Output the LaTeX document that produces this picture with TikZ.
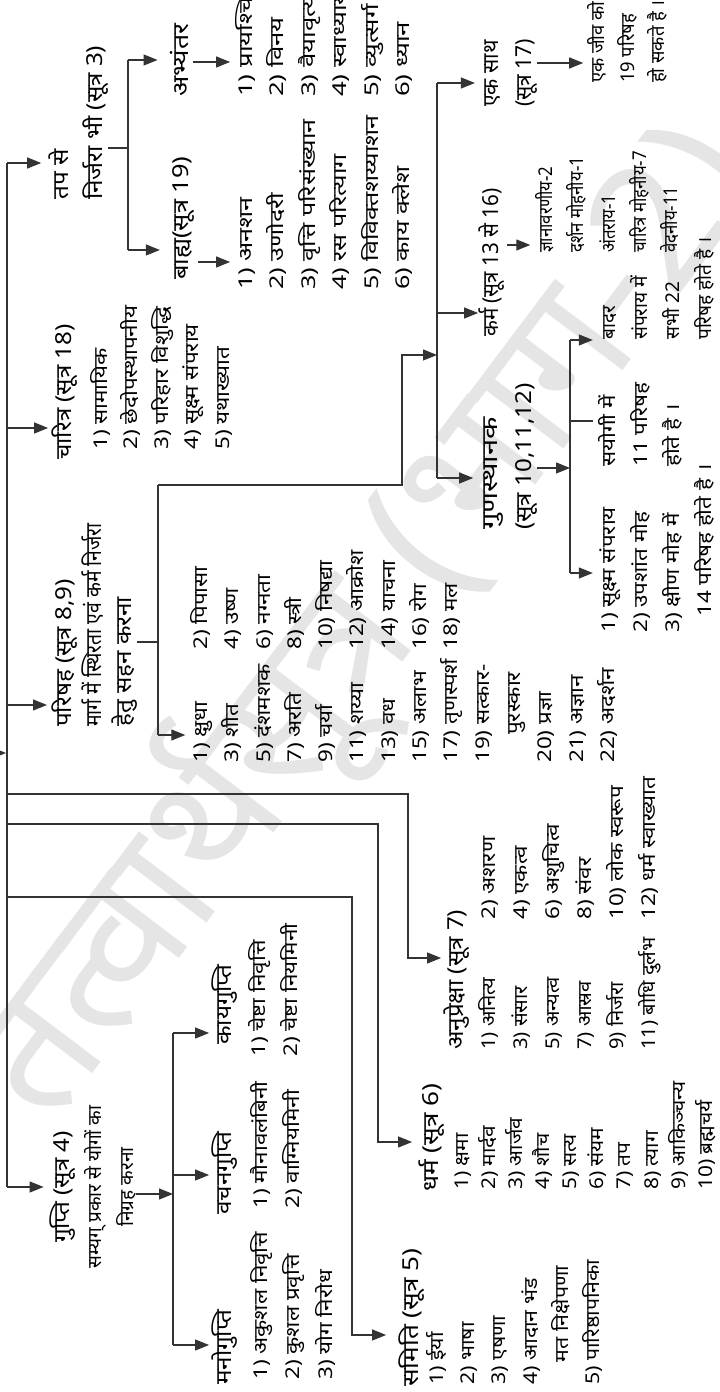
\documentclass[tikz,border=0pt]{standalone}
\usepackage{graphicx}
\usepackage{fontspec}
\newfontfamily\hin[Script=Devanagari,FakeStretch=1.18]{Noto Sans}
\newfontfamily\hinh[Script=Devanagari,FakeStretch=1.1]{Noto Sans}
\newfontfamily\hinw[Script=Devanagari]{Noto Sans}
\usetikzlibrary{arrows.meta}
\newcommand\lstf[1]{\hin\fontsize{19}{#1}\selectfont}
\newcommand\hdf[1]{\hinh\bfseries\fontsize{22}{#1}\selectfont}
\newcommand\sx[2]{\scalebox{#1}[1]{#2}}
\begin{document}
\begin{tikzpicture}[x=1pt,y=1pt,
  ln/.style={line width=1.2pt, draw=black!80},
  arr/.style={ln, -{Triangle[length=14pt,width=11pt]}},
  lst/.style={anchor=north west, align=left, inner sep=0pt},
  hd/.style={anchor=base west, inner sep=0pt, font=\hdf{32}},
  mhd/.style={anchor=north west, align=left, inner sep=0pt}]
\begin{scope}[rotate=90, transform shape]
\useasboundingbox (0,0) rectangle (1392,-720);
\fill[white] (0,0) rectangle (1392,-720);
% watermark
\node[font={\hinw\bfseries\fontsize{175}{175}\selectfont}, text=black!10, rotate=-37, inner sep=0pt] (wm) at (770,-365) {तत्वार्थसूत्र (भाग-2)};

% ---------- headings ----------
\node[mhd, font=\hdf{34}] (tapse) at (1192,-44.2) {\strut तप से\\निर्जरा भी (सूत्र 3)};
\node[hd] (bahya) at (1112,-188) {\sx{1.05}{बाह्य(सूत्र 19)}};
\node[hd] (abhy) at (1295,-188) {\sx{1.1}{अभ्यंतर}};
\node[hd] (charitra) at (932,-71) {चारित्र (सूत्र 18)};
\node[mhd, font=\hdf{30}] (parishah) at (665,-50) {\strut परिषह (सूत्र 8,9)\\\sx{0.8}{मार्ग में स्थिरता एवं कर्म निर्जरा}\\हेतु सहन करना};
\node[hd] (anu) at (342,-463) {अनुप्रेक्षा (सूत्र 7)};
\node[hd] (dharma) at (200,-438) {\sx{1.08}{धर्म (सूत्र 6)}};
\node[hd] (samiti) at (5,-418) {\sx{1.08}{समिति (सूत्र 5)}};
\node[anchor=north, align=center, inner sep=0pt, font={\hinw\fontsize{19}{32}\selectfont}] (gupti) at (205,-46.6) {\strut{\hdf{32}गुप्ति (सूत्र 4)}\\सम्यग् प्रकार से योगों का\\निग्रह करना};
\node[hd] (mano) at (7,-231) {मनोगुप्ति};
\node[hd] (vacana) at (177,-231) {वचनगुप्ति};
\node[hd] (kaya) at (347,-231) {कायगुप्ति};
\node[mhd, font=\hdf{34}] (guna) at (862,-473.2) {\strut\sx{1.2}{गुणस्थानक}\\(सूत्र 10,11,12)};
\node[hd] (karma) at (1055,-498) {\sx{0.85}{कर्म (सूत्र 13 से 16)}};
\node[mhd, font=\hdf{33}, xscale=0.87] (eksath) at (1285,-474.9) {\strut एक साथ\\(सूत्र 17)};

% ---------- lists ----------
\node[lst, font=\lstf{31.5}, xscale=1.15] (abhylist) at (1295,-230.1) {\strut 1) प्रायश्चित\\2) विनय\\3) वैयावृत्य\\4) स्वाध्याय\\5) व्युत्सर्ग\\6) ध्यान};
\node[lst, font=\lstf{31.5}, xscale=1.12] (bahyalist) at (1102,-230.1) {\strut 1) अनशन\\2) उणोदरी\\3) वृत्ति परिसंख्यान\\4) रस परित्याग\\5) विविक्तशय्याशन\\6) काय क्लेश};
\node[lst, font=\lstf{30.5}] (charlist) at (942,-85.8) {\strut 1) सामायिक\\2) छेदोपस्थापनीय\\3) परिहार विशुद्धि\\4) सूक्ष्म संपराय\\5) यथाख्यात};
\node[lst, font=\lstf{31.3}] (parc1) at (629,-185.3) {\strut 1) क्षुधा\\3) शीत\\5) दंशमशक\\7) अरति\\9) चर्या\\11) शय्या\\13) वध\\15) अलाभ\\17) तृणस्पर्श\\19) सत्कार-\\\hspace*{28pt}पुरस्कार\\20) प्रज्ञा\\21) अज्ञान\\22) अदर्शन};
\node[lst, font=\lstf{31.3}] (parc2) at (742,-185.3) {\strut 2) पिपासा\\4) उष्ण\\6) नग्नता\\8) स्त्री\\10) निषद्या\\12) आक्रोश\\14) याचना\\16) रोग\\18) मल};
\node[lst, font=\lstf{32}, xscale=0.9] (anuc1) at (342,-472.8) {\strut 1) अनित्य\\3) संसार\\5) अन्यत्व\\7) आस्रव\\9) निर्जरा\\11) बोधि दुर्लभ};
\node[lst, font=\lstf{32}] (anuc2) at (472,-472.8) {\strut 2) अशरण\\4) एकत्व\\6) अशुचित्व\\8) संवर\\10) लोक स्वरूप\\12) धर्म स्वाख्यात};
\node[lst, font=\lstf{27.1}, xscale=0.93] (dharlist) at (202,-449.2) {\strut 1) क्षमा\\2) मार्दव\\3) आर्जव\\4) शौच\\5) सत्य\\6) संयम\\7) तप\\8) त्याग\\9) आकिञ्चन्य\\10) ब्रह्मचर्य};
\node[lst, font=\lstf{31.2}, xscale=0.95] (samlist) at (7,-421.4) {\strut 1) ईर्या\\2) भाषा\\3) एषणा\\4) आदान भंड\\\hspace*{24pt}मत निक्षेपणा\\5) पारिष्ठापनिका};
\node[lst, font=\lstf{32.5}] (manolist) at (12,-244.5) {\strut 1) अकुशल निवृत्ति\\2) कुशल प्रवृत्ति\\3) योग निरोध};
\node[lst, font=\lstf{32.5}] (vaclist) at (183,-244.5) {\strut 1) मौनावलंबिनी\\2) वाग्नियमिनी};
\node[lst, font=\lstf{32}] (kayalist) at (335,-242.8) {\strut 1) चेष्टा निवृत्ति\\2) चेष्टा नियमिनी};
\node[lst, font=\lstf{32}] (colA) at (759,-592.8) {\strut 1) सूक्ष्म संपराय\\2) उपशांत मोह\\3) क्षीण मोह में\\\hspace*{16pt}14 परिषह होते है ।};
\node[lst, font=\lstf{32}] (colB) at (925,-592.8) {\strut सयोगी में\\11 परिषह\\होते है ।};
\node[lst, font=\lstf{32}, xscale=0.85] (colC) at (1052,-592.8) {\strut बादर\\संपराय में\\सभी 22\\परिषह होते है ।};
\node[lst, font=\lstf{31.3}, xscale=0.75] (karlist) at (1139,-530.3) {\strut ज्ञानावरणीय-2\\दर्शन मोहनीय-1\\अंतराय-1\\चारित्र मोहनीय-7\\वेदनीय-11};
\node[lst, font=\lstf{30}, xscale=0.82] (eklist) at (1309,-583.2) {\strut एक जीव को\\19 परिषह\\हो सकते है ।};

% ---------- trunk ----------
\coordinate (tr1) at (1229,-7);
\coordinate (tr2) at (964,-7);
\coordinate (tr3) at (687,-7);
\coordinate (tr4) at (598,-7);
\coordinate (tr5) at (568,-7);
\coordinate (tr6) at (495,-7);
\coordinate (tr7) at (205,-7);
\coordinate (rt0) at (639,22);
\coordinate (rt1) at (639,-6);
\draw[ln] (tr7) -- (tr1);
\draw[arr] (rt0) -- (rt1);
\draw[arr, shorten >=3pt] (tr1) -- (tr1 |- tapse.north);
\draw[arr, shorten >=3pt] (tr2) -- (tr2 |- charitra.north);
\draw[arr, shorten >=3pt] (tr3) -- (tr3 |- parishah.north);
\coordinate (c4a) at (598,-408); \coordinate (c4b) at (434,-408);
\draw[arr, shorten >=2pt] (tr4) -- (c4a) -- (c4b) -- (c4b |- anu.north);
\coordinate (c5a) at (568,-378); \coordinate (c5b) at (250,-378);
\draw[arr, shorten >=6pt] (tr5) -- (c5a) -- (c5b) -- (c5b |- dharma.north);
\coordinate (c6a) at (495,-352); \coordinate (c6b) at (57,-352);
\draw[arr, shorten >=12pt] (tr6) -- (c6a) -- (c6b) -- (c6b |- samiti.north);
\draw[arr, shorten >=3pt] (tr7) -- (tr7 |- gupti.north);

% ---------- tap branch ----------
\coordinate (tb) at (1244,-128);
\coordinate (bL) at (1142,-128);
\coordinate (bR) at (1332,-128);
\draw[ln] (tb |- tapse.south) -- (tb);
\draw[ln] (bL) -- (bR);
\draw[arr, shorten >=12pt] (bL) -- (bL |- bahya.north);
\draw[arr, shorten >=12pt] (bR) -- (bR |- abhy.north);
\coordinate (ax) at (1330,0);
\coordinate (bx) at (1130,0);
\draw[arr, shorten <=4pt] (ax |- abhy.south) -- (ax |- abhylist.north);
\draw[arr, shorten <=4pt] (bx |- bahya.south) -- (bx |- bahyalist.north);

% ---------- parishah branch ----------
\coordinate (px) at (750,0);
\coordinate (pj) at (750,-158);
\coordinate (pa) at (657,-158);
\coordinate (pb) at (907,-158);
\draw[ln] (px |- parishah.south) -- (pj);
\draw[ln] (pa) -- (pb);
\draw[arr] (pa) -- (pa |- parc1.north);
\coordinate (pc) at (907,-402);
\coordinate (pd) at (1037,-402);
\coordinate (gbp) at (1037,-437);
\draw[arr] (pb) -- (pc) -- (pd) -- (gbp);
\coordinate (gb0) at (914,-437);
\coordinate (gb1) at (1079,-437);
\coordinate (gb2) at (1309,-437);
\draw[ln] (gb0) -- (gb2);
\draw[arr] (gb0) -- (gb0 |- guna.north);
\draw[arr] (gb1) -- (gb1 |- karma.north);
\draw[arr] (gb2) -- (gb2 |- eksath.north);

\coordinate (gx) at (924,0);
\coordinate (gcm) at (924,-570);
\draw[arr] (gx |- guna.south) -- (gcm);
\coordinate (gc0) at (819,-570);
\coordinate (gc1) at (971,-570);
\coordinate (gc2) at (1052,-570);
\draw[ln] (gc0) -- (gc2);
\draw[arr] (gc0) -- (gc0 |- colA.north);
\draw[ln] (gc1) -- (gc1 |- colB.north);
\draw[arr] (gc2) -- (gc2 |- colC.north);
\coordinate (kx) at (1147,0);
\draw[arr, shorten <=3pt] (kx |- karma.south) -- (kx |- karlist.north);
\coordinate (ex) at (1329,0);
\draw[arr] (ex |- eksath.south) -- (ex |- eklist.north);

% ---------- gupti branch ----------
\coordinate (gux) at (198,-173);
\draw[arr] (gux |- gupti.south) -- (gux);
\coordinate (gg0) at (47,-173);
\coordinate (gg1) at (217,-173);
\coordinate (gg2) at (359,-173);
\draw[ln] (gg0) -- (gg2);
\draw[arr, shorten >=2pt] (gg0) -- (gg0 |- mano.north);
\draw[arr, shorten >=2pt] (gg1) -- (gg1 |- vacana.north);
\draw[arr, shorten >=2pt] (gg2) -- (gg2 |- kaya.north);
\end{scope}
\end{tikzpicture}
\end{document}
